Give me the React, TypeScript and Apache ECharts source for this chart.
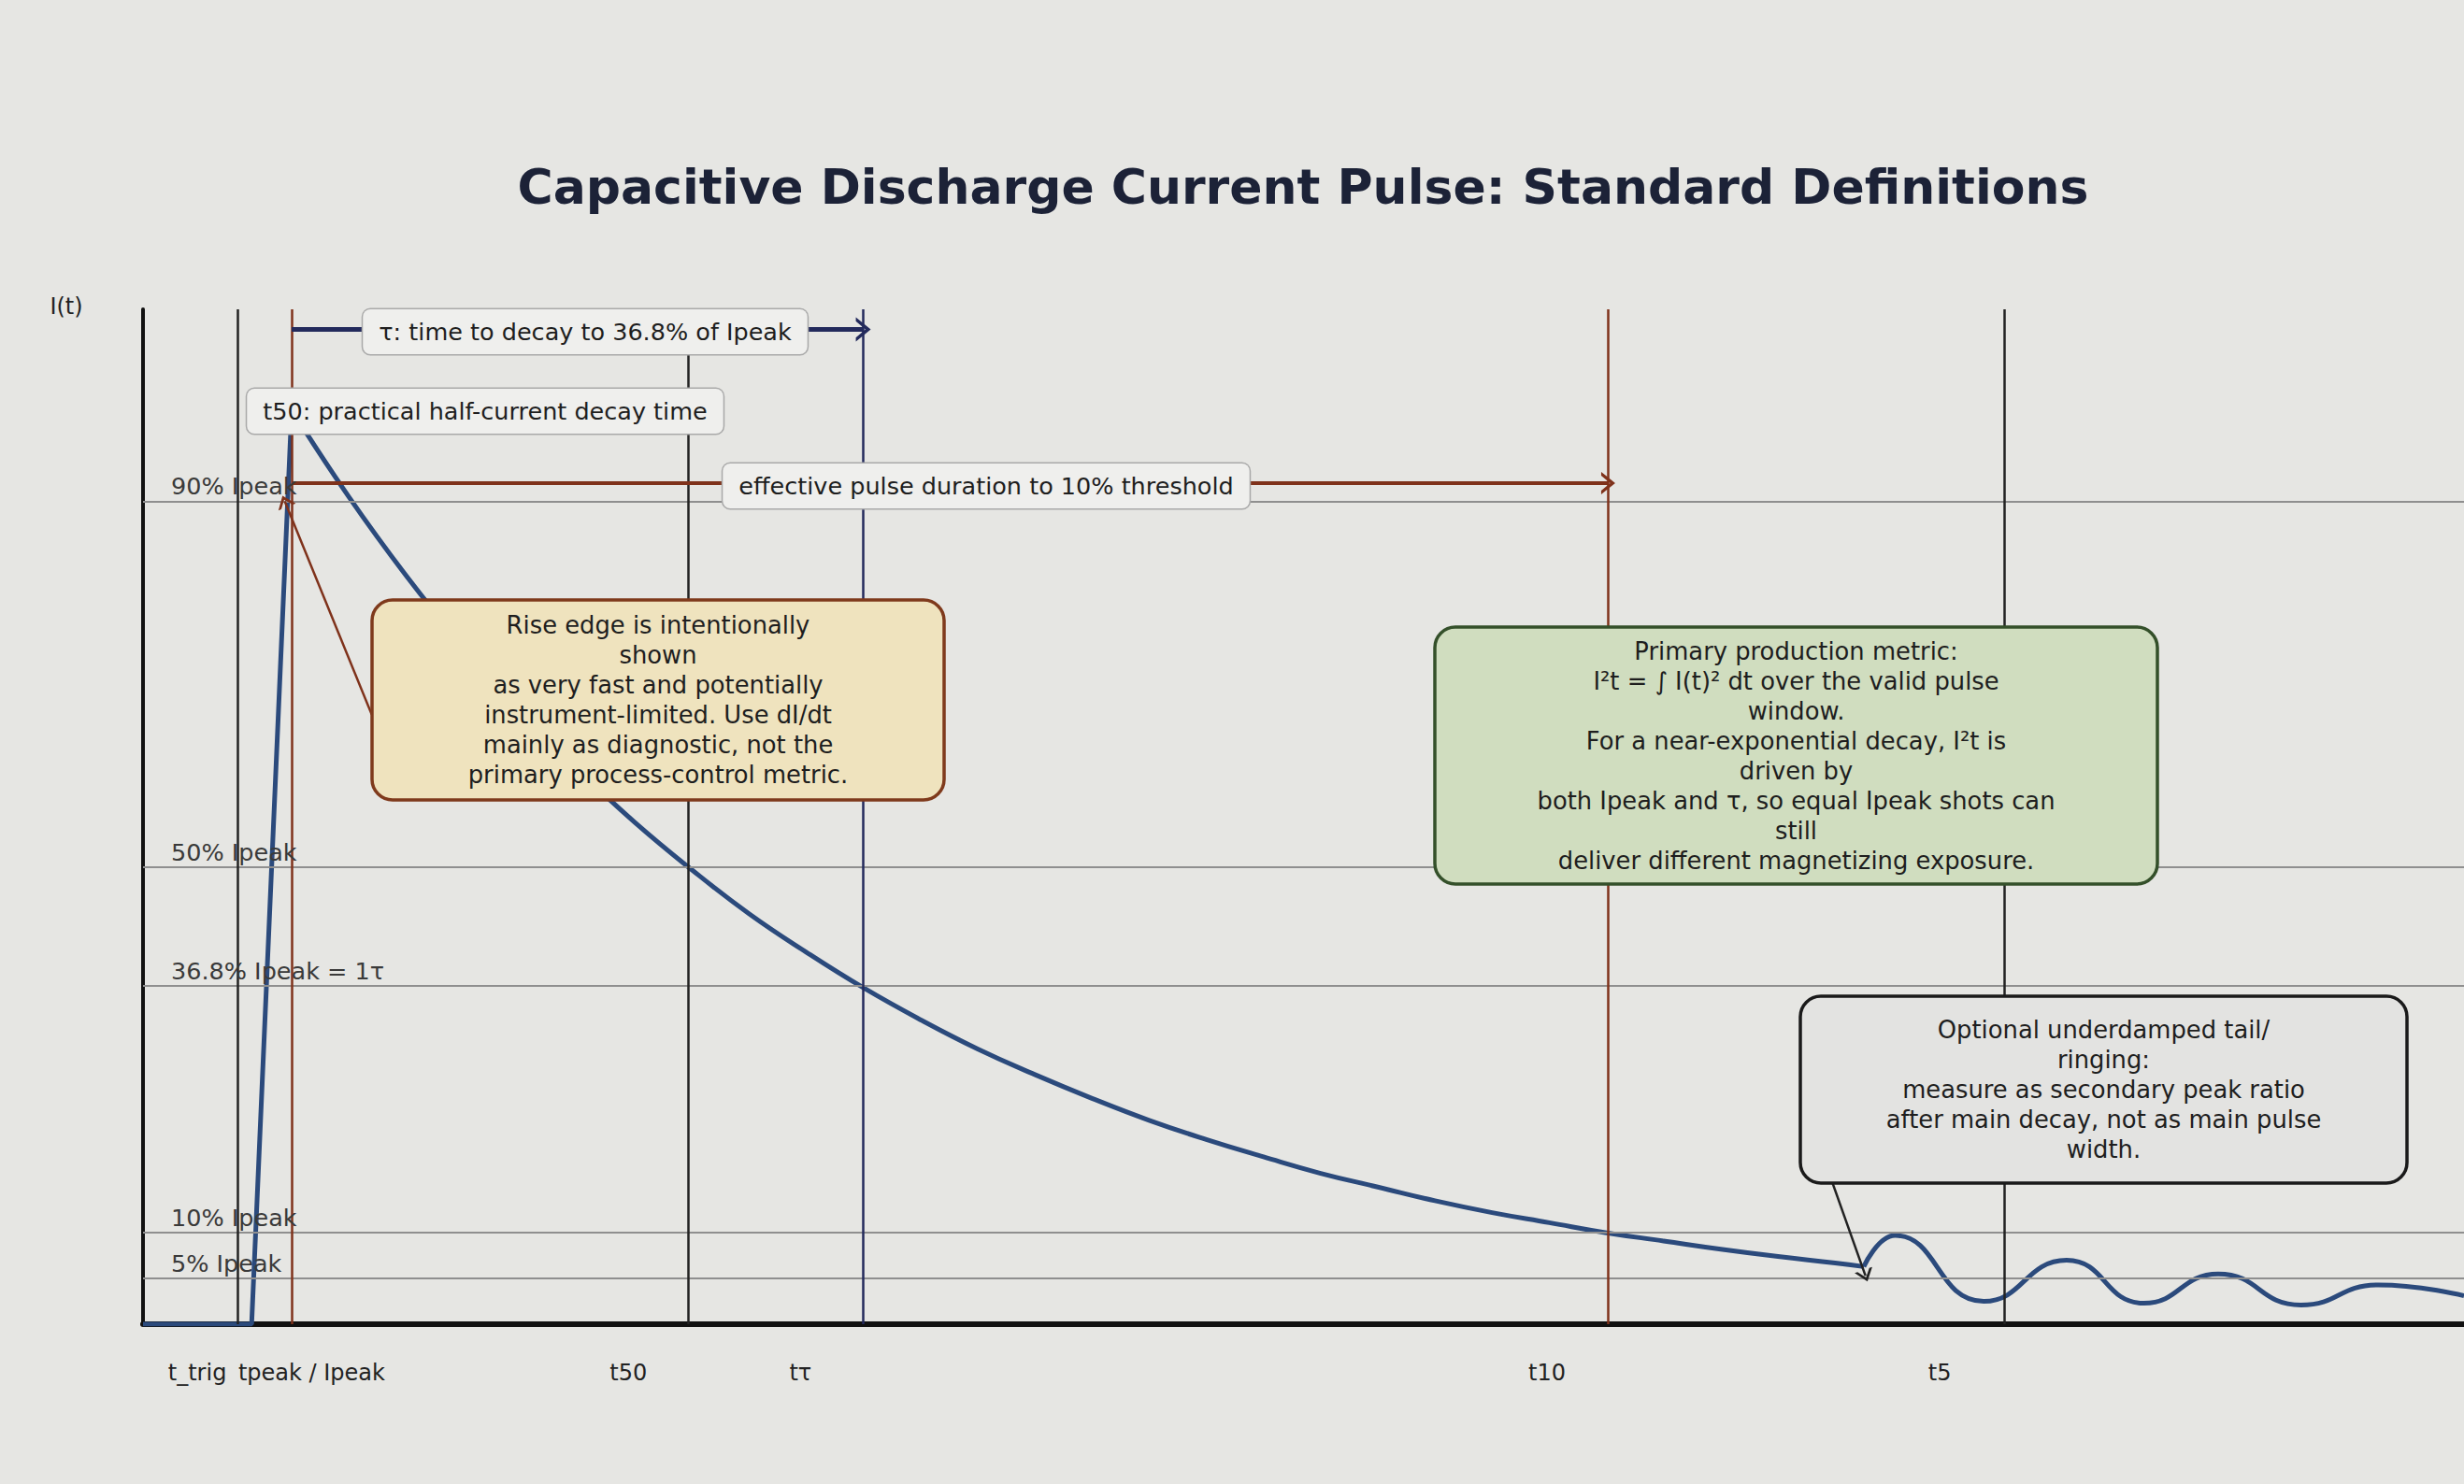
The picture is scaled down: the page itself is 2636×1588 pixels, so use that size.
import React, { useEffect, useRef } from 'react';
import * as echarts from 'echarts';

const chartTitle = 'Capacitive Discharge Current Pulse: Standard Definitions';
const yAxisName = 'I(t)';

// Rise edge (time in µs, current as fraction of Ipeak)
const riseTime = [0, 19, 26];
const riseCurrent = [0, 0, 1.0];

// Main decay
const decayTime = [26, 36, 46, 56, 66, 76, 86, 96, 106, 116, 126, 136, 146, 156, 166, 176, 186, 196, 206, 216, 226, 236, 246, 256, 266, 276, 286, 296, 301];
const decayCurrent = [1.0, 0.905, 0.819, 0.741, 0.67, 0.607, 0.549, 0.497, 0.449, 0.407, 0.368, 0.333, 0.301, 0.273, 0.247, 0.223, 0.202, 0.183, 0.165, 0.15, 0.135, 0.122, 0.111, 0.1, 0.091, 0.082, 0.074, 0.067, 0.063];

// Optional underdamped tail ringing
const ringTime = [301, 306.5, 322, 336.5, 350, 363, 377.5, 391, 406];
const ringCurrent = [0.063, 0.097, 0.025, 0.07, 0.023, 0.055, 0.021, 0.043, 0.031];

// Vertical time markers
const markerNames = ['t_trig', 'tpeak', 't50', 'tτ', 't10', 't5'];
const markerTimes = [16.5, 26, 95.3, 126, 256.3, 325.6];

// Horizontal reference levels
const levelValues = [0.9, 0.5, 0.368, 0.1, 0.05];
const levelLabels = ['90% Ipeak', '50% Ipeak', '36.8% Ipeak = 1τ', '10% Ipeak', '5% Ipeak'];

// X tick labels
const xTickLabels = ['t_trig', 'tpeak / Ipeak', 't50', 'tτ', 't10', 't5'];
const xTickValues = [9.5, 29.5, 84.9, 115, 245.6, 314.3];

// Span arrows: [startTime, endTime, level]
const tauArrow = [26, 126, 1.088];
const durationArrow = [26, 256.3, 0.92];

const tauLabel = 'τ: time to decay to 36.8% of Ipeak';
const t50Label = 't50: practical half-current decay time';
const durationLabel = 'effective pulse duration to 10% threshold';

const riseNote = 'Rise edge is intentionally\nshown\nas very fast and potentially\ninstrument-limited. Use dI/dt\nmainly as diagnostic, not the\nprimary process-control metric.';
const metricNote = 'Primary production metric:\nI²t = ∫ I(t)² dt over the valid pulse\nwindow.\nFor a near-exponential decay, I²t is\ndriven by\nboth Ipeak and τ, so equal Ipeak shots can\nstill\ndeliver different magnetizing exposure.';
const ringNote = 'Optional underdamped tail/\nringing:\nmeasure as secondary peak ratio\nafter main decay, not as main pulse\nwidth.';

// Callout arrows: [fromTime, fromCurrent, toTime, toCurrent]
const riseCallout = [40, 0.667, 24.8, 0.9];
const ringCallout = [290.4, 0.245, 301.3, 0.053];

const FONT = 'DejaVu Sans';
const BROWN = '#7f321b';
const NAVY = '#232a5c';
const INK = '#222222';
const CURVE = '#2b4a7c';
const CHEVRON = 'path://M0,14 L12,0 L24,14 L20,14 L12,5 L4,14 Z';

const markerColor: Record<string, string> = {
  t_trig: INK,
  tpeak: BROWN,
  t50: INK,
  'tτ': NAVY,
  t10: BROWN,
  t5: INK,
};

function labelBox(cx: number, cy: number, text: string) {
  return {
    type: 'text',
    z: 50,
    x: cx,
    y: cy,
    style: {
      text,
      font: `25.5px "${FONT}"`,
      fill: '#1e1e1e',
      align: 'center',
      verticalAlign: 'middle',
      backgroundColor: '#efefed',
      borderColor: '#a9a9a9',
      borderWidth: 1.5,
      borderRadius: 8,
      padding: [11, 17],
    },
  };
}

function noteBox(x: number, y: number, w: number, h: number, text: string, fill: string, stroke: string) {
  return {
    type: 'group',
    z: 50,
    children: [
      {
        type: 'rect',
        z: 50,
        shape: { x, y, width: w, height: h, r: 22 },
        style: { fill, stroke, lineWidth: 3.5 },
      },
      {
        type: 'text',
        z: 51,
        x: x + w / 2,
        y: y + h / 2,
        style: {
          text,
          font: `25.8px "${FONT}"`,
          lineHeight: 32,
          fill: '#1e1e1e',
          align: 'center',
          verticalAlign: 'middle',
        },
      },
    ],
  };
}

function arrowLine(a: number[], b: number[], color: string, width: number, size: number[]) {
  return [
    { coord: a, symbol: 'none', lineStyle: { color, width, type: 'solid' } },
    { coord: b, symbol: CHEVRON, symbolSize: size },
  ];
}

export default function App() {
  const ref = useRef<HTMLDivElement>(null);

  useEffect(() => {
    document.body.style.margin = '0';
    if (!ref.current) return;
    const chart = echarts.init(ref.current, null, { renderer: 'svg' });

    const riseData = riseTime.map((t, i) => [t, riseCurrent[i]]);
    const decayData = decayTime.map((t, i) => [t, decayCurrent[i]]);
    const ringData = ringTime.map((t, i) => [t, ringCurrent[i]]);

    const levelLines = levelValues.map((v, i) => ({
      yAxis: v,
      lineStyle: { color: '#8f8f8f', width: 2, type: 'solid' },
      label: {
        show: true,
        position: 'insideStartTop',
        formatter: levelLabels[i],
        color: '#3a3a3a',
        fontFamily: FONT,
        fontSize: 25.5,
        padding: [0, 0, 0, 27],
        distance: 3,
      },
    }));

    const markerLines = markerTimes.map((t, i) => ({
      xAxis: t,
      lineStyle: { color: markerColor[markerNames[i]], width: 2.5, type: 'solid' },
      label: { show: false },
    }));

    const curveSeries = (name: string, data: number[][], smooth: number | boolean) => ({
      name,
      type: 'line',
      data,
      z: 3,
      showSymbol: false,
      smooth,
      lineStyle: { color: CURVE, width: 5 },
      itemStyle: { color: CURVE },
    });

    const option: any = {
      animation: false,
      backgroundColor: '#e6e6e3',
      title: {
        text: chartTitle,
        left: 1394,
        top: 174,
        padding: 0,
        textAlign: 'center',
        textStyle: { fontFamily: FONT, fontWeight: 'bold', fontSize: 52, color: '#1c2237' },
      },
      grid: { left: 153, right: 0, top: 331, bottom: 171, outerBoundsMode: 'none' },
      xAxis: {
        type: 'value',
        min: 0,
        max: 406,
        axisLine: { show: true, lineStyle: { color: '#111111', width: 6 } },
        axisTick: { show: false },
        splitLine: { show: false },
        axisLabel: {
          customValues: xTickValues,
          formatter: (v: number) => {
            let best = 0;
            xTickValues.forEach((x, i) => {
              if (Math.abs(x - v) < Math.abs(xTickValues[best] - v)) best = i;
            });
            return xTickLabels[best];
          },
          margin: 40,
          fontFamily: FONT,
          fontSize: 24,
          color: '#222222',
          hideOverlap: false,
        },
      },
      yAxis: {
        type: 'value',
        min: 0,
        max: 1.11,
        axisLine: { show: true, lineStyle: { color: '#111111', width: 4 } },
        axisTick: { show: false },
        axisLabel: { show: false },
        splitLine: { show: false },
      },
      series: [
        {
          name: 'guides',
          type: 'line',
          data: [],
          z: 1,
          silent: true,
          markLine: {
            silent: true,
            symbol: 'none',
            animation: false,
            data: [...levelLines, ...markerLines],
          },
        },
        curveSeries('rise', riseData, false),
        curveSeries('decay', decayData, 0.45),
        curveSeries('ringing', ringData, 0.5),
        {
          name: 'arrows',
          type: 'line',
          data: [],
          z: 4,
          silent: true,
          markLine: {
            silent: true,
            animation: false,
            label: { show: false },
            data: [
              arrowLine([tauArrow[0], tauArrow[2]], [tauArrow[1], tauArrow[2]], NAVY, 5, [26, 16]),
              arrowLine([durationArrow[0], durationArrow[2]], [durationArrow[1], durationArrow[2]], BROWN, 4, [24, 15]),
              arrowLine([riseCallout[0], riseCallout[1]], [riseCallout[2], riseCallout[3]], BROWN, 2.5, [20, 13]),
              arrowLine([ringCallout[0], ringCallout[1]], [ringCallout[2], ringCallout[3]], INK, 2.5, [20, 13]),
            ],
          },
        },
      ],
      graphic: [
        {
          type: 'text',
          z: 50,
          x: 71,
          y: 328,
          style: {
            text: yAxisName,
            font: `24px "${FONT}"`,
            fill: '#222222',
            align: 'center',
            verticalAlign: 'middle',
          },
        },
        labelBox(626, 355, tauLabel),
        labelBox(519, 440, t50Label),
        labelBox(1055, 520, durationLabel),
        noteBox(398, 642, 612, 214, riseNote, '#efe3be', '#7f3a1c'),
        noteBox(1535, 671, 773, 275, metricNote, '#d0ddbf', '#34502a'),
        noteBox(1926, 1066, 649, 200, ringNote, '#e3e3e1', '#1a1a1a'),
      ],
    };

    chart.setOption(option);
    return () => chart.dispose();
  }, []);

  return <div ref={ref} style={{ width: 2636, height: 1588 }} />;
}
